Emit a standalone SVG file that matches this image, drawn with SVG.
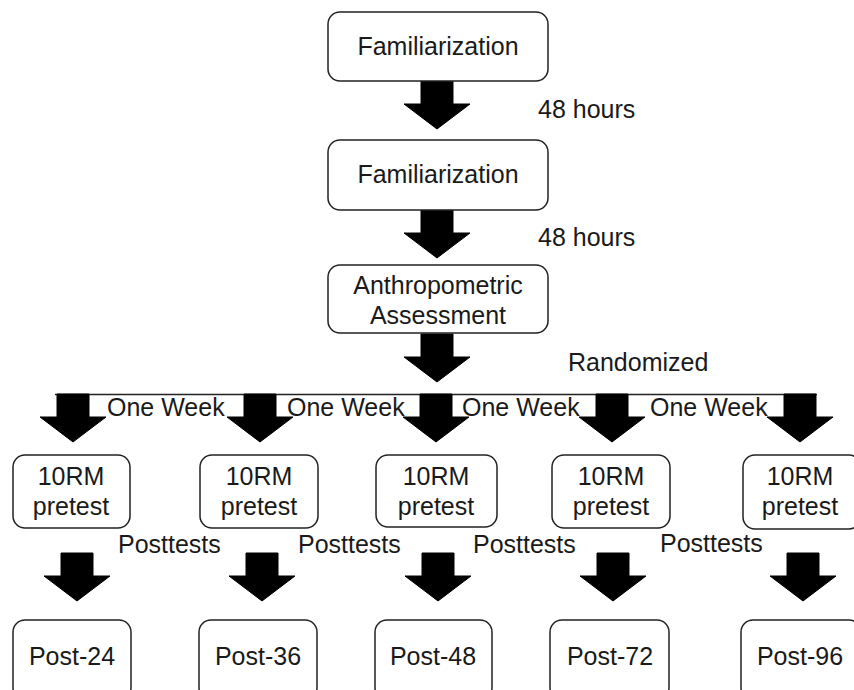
<svg xmlns="http://www.w3.org/2000/svg" width="854" height="690" viewBox="0 0 854 690">
<style>
.box{fill:#fff;stroke:#222;stroke-width:1.5}
.t{font-family:"Liberation Sans",Arial,sans-serif;font-size:25px;fill:#1a1a1a}
.c{text-anchor:middle}
.arr{fill:#000;stroke:#000;stroke-width:1}
.ln{stroke:#222;stroke-width:1.5;fill:none}
</style>
<defs>
<polygon id="arrTop" points="-16,0 16,0 16,23 33,23 0,48 -33,23 -16,23"/>
<polygon id="arrRow" points="-16,0 16,0 16,23 33,23 0,48 -33,23 -16,23"/>
</defs>
<rect width="854" height="690" fill="#fff"/>
<g id="connectors">
<use href="#arrTop" class="arr" x="437" y="81"/>
<use href="#arrTop" class="arr" x="437" y="210"/>
<use href="#arrTop" class="arr" x="437" y="334"/>
<line class="ln" x1="55" y1="394.5" x2="817" y2="394.5"/>
<use href="#arrRow" class="arr" x="73" y="394"/>
<use href="#arrRow" class="arr" x="260" y="394"/>
<use href="#arrRow" class="arr" x="436" y="394"/>
<use href="#arrRow" class="arr" x="612" y="394"/>
<use href="#arrRow" class="arr" x="800" y="394"/>
<use href="#arrRow" class="arr" x="77" y="553"/>
<use href="#arrRow" class="arr" x="262" y="553"/>
<use href="#arrRow" class="arr" x="438" y="553"/>
<use href="#arrRow" class="arr" x="613" y="553"/>
<use href="#arrRow" class="arr" x="803" y="553"/>
</g>
<g id="labels">
<text class="t" x="538" y="118">48 hours</text>
<text class="t" x="538" y="246">48 hours</text>
<text class="t" x="568" y="371">Randomized</text>
<text class="t" x="107" y="416">One Week</text>
<text class="t" x="287" y="416">One Week</text>
<text class="t" x="462" y="416">One Week</text>
<text class="t" x="650" y="416">One Week</text>
<text class="t" x="118" y="553">Posttests</text>
<text class="t" x="298" y="553">Posttests</text>
<text class="t" x="473" y="553">Posttests</text>
<text class="t" x="660" y="552">Posttests</text>
</g>
<g id="fam1"><rect class="box" x="328" y="12" width="220" height="69" rx="12"/><text class="t c" x="438" y="55">Familiarization</text></g>
<g id="fam2"><rect class="box" x="328" y="140" width="220" height="70" rx="12"/><text class="t c" x="438" y="183">Familiarization</text></g>
<g id="anthro"><rect class="box" x="328" y="265" width="220" height="68" rx="12"/><text class="t c" x="438" y="294">Anthropometric</text><text class="t c" x="438" y="324">Assessment</text></g>
<g id="pre1"><rect class="box" x="13" y="455" width="117" height="73" rx="12"/><text class="t c" x="71" y="485">10RM</text><text class="t c" x="71" y="515">pretest</text></g>
<g id="pre2"><rect class="box" x="200" y="455" width="118" height="73" rx="12"/><text class="t c" x="259" y="485">10RM</text><text class="t c" x="259" y="515">pretest</text></g>
<g id="pre3"><rect class="box" x="376" y="455" width="121" height="72" rx="12"/><text class="t c" x="436" y="485">10RM</text><text class="t c" x="436" y="515">pretest</text></g>
<g id="pre4"><rect class="box" x="552" y="455" width="118" height="73" rx="12"/><text class="t c" x="611" y="485">10RM</text><text class="t c" x="611" y="515">pretest</text></g>
<g id="pre5"><rect class="box" x="743" y="455" width="118" height="74" rx="12"/><text class="t c" x="800" y="485">10RM</text><text class="t c" x="800" y="515">pretest</text></g>
<g id="post24"><rect class="box" x="13" y="620" width="118" height="80" rx="12"/><text class="t c" x="72" y="665">Post-24</text></g>
<g id="post36"><rect class="box" x="199" y="620" width="118" height="80" rx="12"/><text class="t c" x="258" y="665">Post-36</text></g>
<g id="post48"><rect class="box" x="375" y="620" width="117" height="80" rx="12"/><text class="t c" x="433" y="665">Post-48</text></g>
<g id="post72"><rect class="box" x="550" y="620" width="119" height="80" rx="12"/><text class="t c" x="610" y="665">Post-72</text></g>
<g id="post96"><rect class="box" x="741" y="620" width="120" height="80" rx="12"/><text class="t c" x="800" y="665">Post-96</text></g>
</svg>
